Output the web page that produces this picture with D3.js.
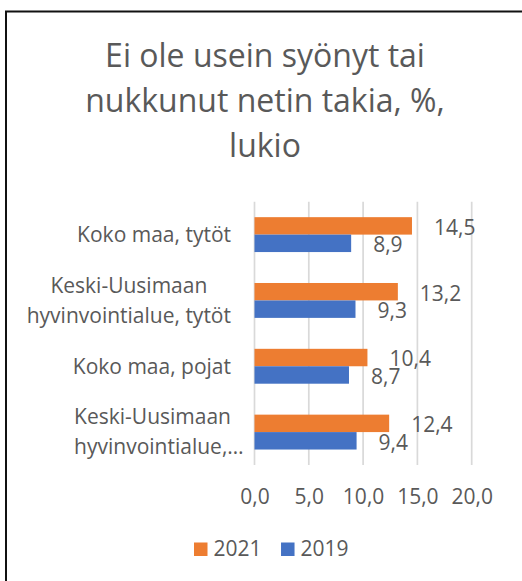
<!DOCTYPE html>
<html>
<head>
<meta charset="utf-8">
<script src="https://cdn.jsdelivr.net/npm/d3@7"></script>
<style>
  html, body { margin: 0; padding: 0; background: #fff; }
  svg { display: block; }
  text { font-family: "Open Sans", sans-serif; fill: #595959; }
</style>
</head>
<body>
<svg id="chart" width="522" height="581"></svg>
<script>
// Category labels (each entry is the list of lines shown on the axis)
const categories = [
  ["Koko maa, tytöt"],
  ["Keski-Uusimaan", "hyvinvointialue, tytöt"],
  ["Koko maa, pojat"],
  ["Keski-Uusimaan", "hyvinvointialue,…"]
];
const seriesNames = ["2021", "2019"];
const values2021 = [14.5, 13.2, 10.4, 12.4];
const values2019 = [8.9, 9.3, 8.7, 9.4];
const xTicks = [0, 5, 10, 15, 20];
const titleLines = ["Ei ole usein syönyt tai", "nukkunut netin takia, %,", "lukio"];
const colors = ["#ED7D31", "#4472C4"];

const svg = d3.select("#chart");
const fmt = v => d3.format(".1f")(v).replace(".", ",");

// chart frame
svg.append("rect")
  .attr("x", 6).attr("y", 11.5)
  .attr("width", 700).attr("height", 700)
  .attr("fill", "#fff")
  .attr("stroke", "#111").attr("stroke-width", 2);

// title
svg.append("g").selectAll("text")
  .data(titleLines)
  .join("text")
  .attr("x", 265)
  .attr("y", (d, i) => 66.7 + i * 45.3)
  .attr("text-anchor", "middle")
  .attr("font-size", 32)
  .text(d => d);

const plot = { left: 254.5, right: 471.7, top: 201.7, bottom: 465 };

const x = d3.scaleLinear().domain([0, 20]).range([plot.left, plot.right]);
const idx = d3.range(categories.length);
const y = d3.scaleBand().domain(idx)
  .range([plot.top, plot.bottom])
  .paddingInner(0.47).paddingOuter(0.235);
const ySub = d3.scaleBand().domain(seriesNames).range([0, y.bandwidth()]);

// vertical gridlines
svg.append("g").selectAll("line")
  .data(xTicks)
  .join("line")
  .attr("x1", d => x(d)).attr("x2", d => x(d))
  .attr("y1", plot.top).attr("y2", plot.bottom)
  .attr("stroke", "#d9d9d9").attr("stroke-width", 1.7);

// x axis tick labels
const xAxis = d3.axisBottom(x).tickValues(xTicks).tickFormat(fmt).tickSize(0).tickPadding(0);
const gx = svg.append("g").attr("transform", `translate(0,${plot.bottom})`).call(xAxis);
gx.select(".domain").remove();
gx.selectAll("text")
  .attr("font-family", "Open Sans, sans-serif")
  .attr("font-size", 21)
  .attr("fill", "#595959")
  .attr("dy", null)
  .attr("y", 39);

// bars
const series = [
  { name: seriesNames[0], values: values2021, color: colors[0] },
  { name: seriesNames[1], values: values2019, color: colors[1] }
];
const barsG = svg.append("g");
series.forEach(s => {
  barsG.append("g").selectAll("rect")
    .data(idx)
    .join("rect")
    .attr("x", x(0))
    .attr("y", i => y(i) + ySub(s.name))
    .attr("width", i => x(s.values[i]) - x(0))
    .attr("height", ySub.bandwidth())
    .attr("fill", s.color);
});

// value labels
series.forEach(s => {
  barsG.append("g").selectAll("text")
    .data(idx)
    .join("text")
    .attr("x", i => x(s.values[i]) + 22)
    .attr("y", i => y(i) + ySub(s.name) + ySub.bandwidth() / 2 + 1.5)
    .attr("dy", "0.35em")
    .attr("font-size", 21)
    .text(i => fmt(s.values[i]));
});

// category labels: block right-aligned to the axis, lines centred within the block,
// truncated lines start where the first line starts
const labelRight = plot.left - 23.5;
const lineGap = 30;
const catG = svg.append("g");
categories.forEach((lines, i) => {
  const cy = y(i) + y.bandwidth() / 2;
  const g = catG.append("g");
  const texts = lines.map((line, j) => g.append("text")
    .attr("y", cy + (j - (lines.length - 1) / 2) * lineGap)
    .attr("dy", "0.35em")
    .attr("font-size", 21)
    .text(line));
  const widths = texts.map(t => t.node().getComputedTextLength());
  const truncated = lines.some(l => l.endsWith("…"));
  if (truncated) {
    const start = labelRight - widths[0];
    texts.forEach(t => t.attr("x", start).attr("text-anchor", "start"));
  } else {
    const w = d3.max(widths);
    const center = labelRight - w / 2;
    texts.forEach(t => t.attr("x", center).attr("text-anchor", "middle"));
  }
});

// legend
const legend = svg.append("g").attr("transform", "translate(194,549)");
let lx = 0;
series.forEach(s => {
  const item = legend.append("g").attr("transform", `translate(${lx},0)`);
  item.append("rect").attr("x", 0).attr("y", -6.5).attr("width", 13.5).attr("height", 13.5).attr("fill", s.color);
  const t = item.append("text").attr("x", 19.5).attr("dy", "0.35em").attr("font-size", 21).text(s.name);
  lx += 19.5 + t.node().getComputedTextLength() + 19.5;
});
</script>
</body>
</html>
